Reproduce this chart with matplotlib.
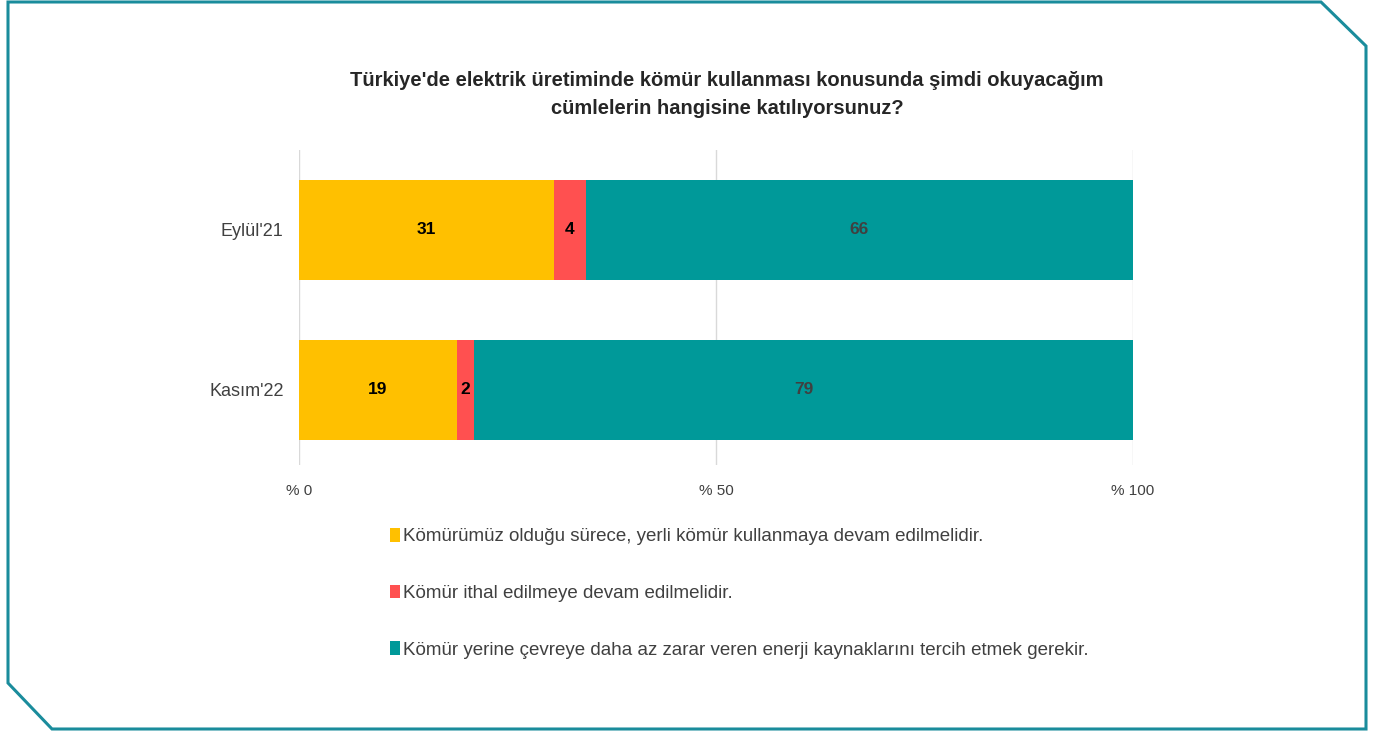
import matplotlib.pyplot as plt
from matplotlib.patches import Polygon

plt.rcParams['font.family'] = ['Liberation Sans Narrow', 'Liberation Sans', 'DejaVu Sans']

periods = ["Eylül'21", "Kasım'22"]
yerli = [30.6, 18.9]
ithal = [3.8, 2.1]
cevre = [65.6, 79.0]
series_names = ['Kömürümüz olduğu sürece, yerli kömür kullanmaya devam edilmelidir.',
                'Kömür ithal edilmeye devam edilmelidir.',
                'Kömür yerine çevreye daha az zarar veren enerji kaynaklarını tercih etmek gerekir.']
colors = ['#FFC000', '#FF5050', '#009999']
label_colors = ['black', 'black', '#404040']
title = "Türkiye'de elektrik üretiminde kömür kullanması konusunda şimdi okuyacağım\ncümlelerin hangisine katılıyorsunuz?"

W, H = 1389, 731
fig = plt.figure(figsize=(W/100, H/100), dpi=100)

# frame with cut corners
pts = [(8, 2), (1321, 2), (1366, 46), (1366, 729), (52, 729), (8, 683)]
frame = Polygon([(x/W, 1 - y/H) for x, y in pts], closed=True, fill=False,
                edgecolor='#1A8C9C', linewidth=2.2, transform=fig.transFigure)
fig.patches.append(frame)

ax = fig.add_axes([299/W, 1 - 465/H, (1133-299)/W, (465-150)/H])

left = [0, 0]
conts = []
for vals, name, c, lc in zip([yerli, ithal, cevre], series_names, colors, label_colors):
    b = ax.barh(periods, vals, left=left, height=0.625, color=c, label=name)
    ax.bar_label(b, fmt='%.0f', label_type='center',
                 fontsize=12.5, fontweight='bold', color=lc)
    conts.append(b)
    left = [l + v for l, v in zip(left, vals)]

ax.set_xlim(0, 100)
ax.set_ylim(1.47, -0.5)
ax.set_xticks([0, 50, 100])
ax.set_xticklabels(['% 0', '% 50', '% 100'])
ax.tick_params(axis='both', length=0, labelcolor='#404040')
ax.tick_params(axis='x', pad=14, labelsize=11)
ax.tick_params(axis='y', pad=11, labelsize=13)
ax.grid(axis='x', color='#D9D9D9', linewidth=1)
ax.set_axisbelow(True)
for s in ax.spines.values():
    s.set_visible(False)

fig.text(727/W, 1 - 94/H, title, ha='center', va='center', fontsize=14.5,
         fontweight='bold', color='#262626', linespacing=1.6)

fig.legend(handles=conts, loc='upper left', bbox_to_anchor=(373/W, 1 - 511/H),
           frameon=False, fontsize=13.5, handlelength=0.55, handleheight=0.75,
           handletextpad=0.15, labelspacing=2.1, labelcolor='#404040')

fig.savefig('out.png', dpi=100)
